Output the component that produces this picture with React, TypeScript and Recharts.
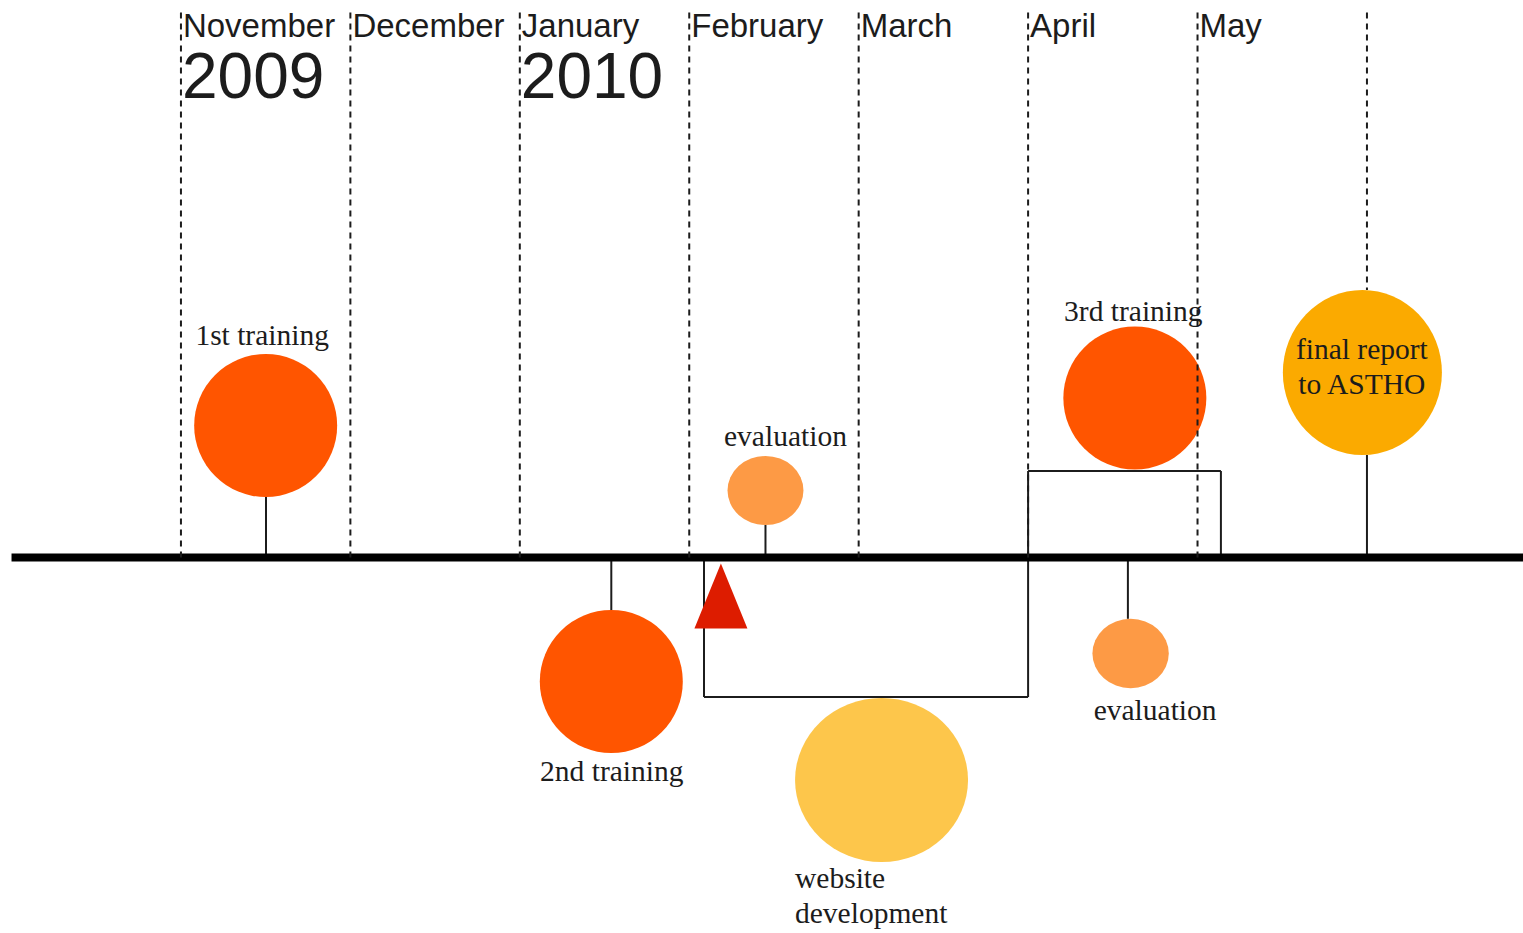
import React from 'react'
import { ComposedChart, XAxis, YAxis, Scatter, ReferenceLine } from 'recharts'

// x = months since 1 Nov 2009, y = px above the timeline
const W = 1523
const H = 933
const X_MIN = -1.068
const X_MAX = 7.921
const Y_MIN = -375.5
const Y_MAX = 557.5
const LINE_TOP = 545

const monthStarts = [0, 1, 2, 3, 4, 5, 6, 7]
const monthLabels = ['November', 'December', 'January', 'February', 'March', 'April', 'May', '']
const yearLabels = ['2009', '', '2010', '', '', '', '', '']

const eventNames = ['1st training', '2nd training', 'evaluation', 'website\ndevelopment', '3rd training', 'evaluation', 'final report\nto ASTHO']
const eventMonth = [0.5, 2.54, 3.45, 4.135, 5.63, 5.605, 6.973]
const eventLevel = [132, -124, 67, -222.5, 159.5, -96, 185]
const eventRadius = [71.5, 71.5, 36.2, 84.2, 71.5, 36.4, 81]
const eventKind = ['training', 'training', 'evaluation', 'development', 'training', 'evaluation', 'report']
// month where each stem meets the timeline (null = no stem)
const stemMonth = [0.502, 2.54, 3.45, null, null, 5.589, 7]

// website development period (below) and 3rd training period (above)
const periodStart = [3.087, 5.0]
const periodEnd = [5.0, 6.138]
const periodDepth = [-139.5, 86.5]

const milestoneMonth = [3.187]

const SANS = '"Liberation Sans", Arial, sans-serif'
const SERIF = '"Liberation Serif", "Times New Roman", serif'
const INK = '#1c1c1c'

const kindStyle: Record<string, { fill: string; aspect: number }> = {
  training: { fill: '#FF5500', aspect: 1 },
  evaluation: { fill: '#FD9A45', aspect: 1.1 },
  development: { fill: '#FDC64B', aspect: 1.055 },
  report: { fill: '#FBAA00', aspect: 0.964 },
}

const labelLayout = [
  { anchor: 'middle', dx: -3.5, dy: -80.5 },
  { anchor: 'middle', dx: 0.5, dy: 99.5 },
  { anchor: 'middle', dx: 20, dy: -44.5 },
  { anchor: 'start', dx: -86.5, dy: 108 },
  { anchor: 'middle', dx: -1.5, dy: -77.5 },
  { anchor: 'middle', dx: 24.5, dy: 66.5 },
  { anchor: 'middle', dx: -0.5, dy: -13.5 },
]

const events = eventNames.map((name, i) => ({
  name,
  x: eventMonth[i],
  y: eventLevel[i],
  r: eventRadius[i],
  kind: eventKind[i],
  idx: i,
}))

const monthMarks = monthStarts.map((m, i) => ({ x: m, y: LINE_TOP, month: monthLabels[i], year: yearLabels[i] }))
const milestones = milestoneMonth.map((m) => ({ x: m, y: 0 }))

const radii = (e: { r: number; kind: string }) => {
  const a = kindStyle[e.kind].aspect
  return { rx: e.r * Math.sqrt(a), ry: e.r / Math.sqrt(a) }
}

const EventShape = (props: any) => {
  const { cx, cy, payload } = props
  const st = kindStyle[payload.kind]
  const { rx, ry } = radii(payload)
  const lay = labelLayout[payload.idx]
  const lines = String(payload.name).split('\n')
  return (
    <g>
      <ellipse cx={cx} cy={cy} rx={rx} ry={ry} fill={st.fill} />
      <text
        x={cx + lay.dx}
        y={cy + lay.dy}
        textAnchor={lay.anchor}
        fontFamily={SERIF}
        fontSize={29.5}
        fill={INK}
      >
        {lines.map((l, k) => (
          <tspan key={k} x={cx + lay.dx} dy={k === 0 ? 0 : 35}>
            {l}
          </tspan>
        ))}
      </text>
    </g>
  )
}

const MonthShape = (props: any) => {
  const { cx, cy, payload } = props
  return (
    <g>
      <text x={cx + 2} y={cy + 24} fontFamily={SANS} fontSize={33} fill={INK}>
        {payload.month}
      </text>
      {payload.year && (
        <text x={cx + 1} y={cy + 85} fontFamily={SANS} fontSize={64} fill={INK}>
          {payload.year}
        </text>
      )}
    </g>
  )
}

const MilestoneShape = (props: any) => {
  const { cx, cy } = props
  return <polygon points={`${cx},${cy + 6} ${cx - 26.5},${cy + 71} ${cx + 26.5},${cy + 71}`} fill="#DD1C00" />
}

export default function App() {
  const reportTop = eventLevel[6] + radii(events[6]).ry

  return (
    <div style={{ position: 'absolute', left: 0, top: 0, width: W, height: H, background: '#fff' }}>
      <ComposedChart width={W} height={H} margin={{ top: 0, right: 0, bottom: 0, left: 0 }}>
        <XAxis type="number" dataKey="x" domain={[X_MIN, X_MAX]} allowDataOverflow hide />
        <YAxis type="number" dataKey="y" domain={[Y_MIN, Y_MAX]} allowDataOverflow hide />

        {periodStart.map((s, i) => (
          <React.Fragment key={`p${i}`}>
            <ReferenceLine segment={[{ x: s, y: 0 }, { x: s, y: periodDepth[i] }]} stroke={INK} strokeWidth={2} />
            <ReferenceLine segment={[{ x: s, y: periodDepth[i] }, { x: periodEnd[i], y: periodDepth[i] }]} stroke={INK} strokeWidth={2} />
            <ReferenceLine segment={[{ x: periodEnd[i], y: periodDepth[i] }, { x: periodEnd[i], y: 0 }]} stroke={INK} strokeWidth={2} />
          </React.Fragment>
        ))}

        {events.map((e, i) => {
          const sx = stemMonth[i]
          if (sx == null) return null
          const { ry } = radii(e)
          const edge = e.y > 0 ? e.y - ry : e.y + ry
          return (
            <ReferenceLine key={`s${i}`} segment={[{ x: sx, y: 0 }, { x: sx, y: edge }]} stroke={INK} strokeWidth={2} />
          )
        })}

        <ReferenceLine segment={[{ x: -1, y: 0 }, { x: X_MAX, y: 0 }]} stroke="#000" strokeWidth={8} />

        <Scatter data={events} shape={<EventShape />} isAnimationActive={false} />
        <Scatter data={milestones} shape={<MilestoneShape />} isAnimationActive={false} />
        <Scatter data={monthMarks} shape={<MonthShape />} isAnimationActive={false} />

        {monthStarts.map((m, i) => (
          <ReferenceLine
            key={`m${i}`}
            segment={[{ x: m, y: LINE_TOP }, { x: m, y: i === monthStarts.length - 1 ? reportTop : 0 }]}
            stroke={INK}
            strokeWidth={2}
            strokeDasharray="6 5"
            zIndex={700}
          />
        ))}
      </ComposedChart>
    </div>
  )
}
